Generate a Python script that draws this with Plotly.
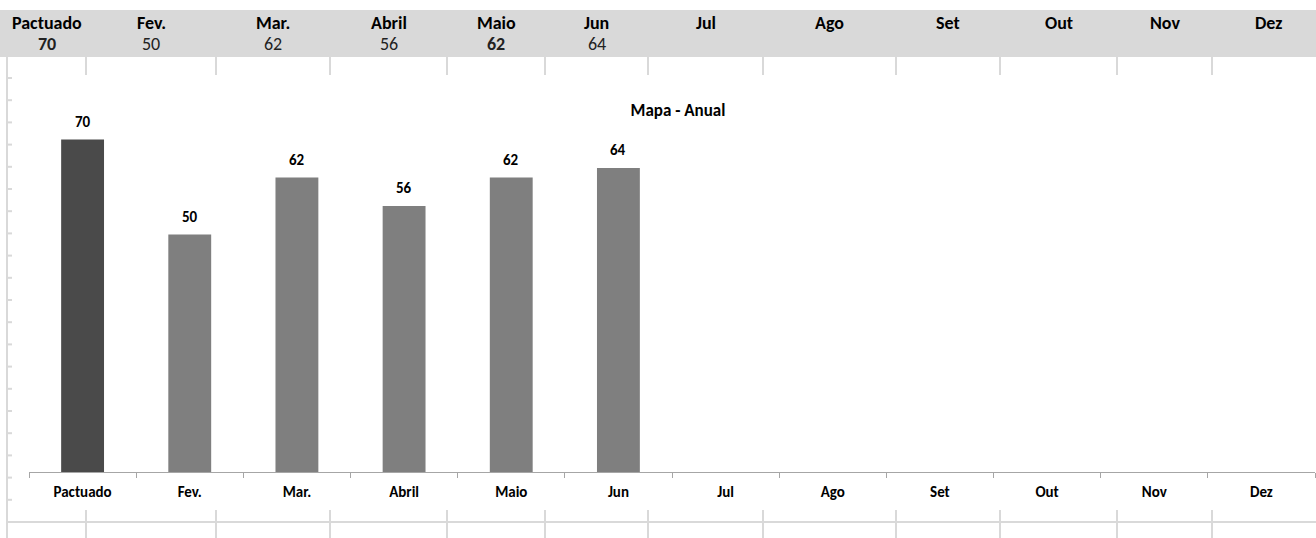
import plotly.graph_objects as go

# dados do mapa anual
meses = ["Pactuado", "Fev.", "Mar.", "Abril", "Maio", "Jun",
         "Jul", "Ago", "Set", "Out", "Nov", "Dez"]
valores = [70, 50, 62, 56, 62, 64, None, None, None, None, None, None]
valores_negrito = ["Pactuado", "Maio"]  # células da linha de cima em negrito

# geometria da folha (pixels) e da área do gráfico
W, H = 1316, 538
ML, MR, MT, MB = 29, 1, 92, 66
PW, PH = W - ML - MR, H - MT - MB
col_bordas = [7, 86, 216, 330, 447, 545, 648, 763, 896, 1000, 1117, 1212, 1324]

FONTE = "Carlito, Lato, Calibri, sans-serif"
CINZA_GRELHA = "#d9d9d9"


def px(x):
    return (x - ML) / PW


def py(y):
    return (H - MB - y) / PH


cores = ["#4a4a4a"] + ["#7f7f7f"] * (len(meses) - 1)

fig = go.Figure()
fig.add_trace(go.Bar(
    x=meses, y=valores, width=0.4,
    marker=dict(color=cores, line=dict(width=0)),
    hoverinfo="x+y",
))

shapes = []
# faixa cinzenta do cabeçalho
shapes.append(dict(type="rect", xref="paper", yref="paper",
                   x0=px(0), x1=px(W), y0=py(57), y1=py(10),
                   fillcolor=CINZA_GRELHA, line=dict(width=0), layer="below"))
# linhas da grelha da folha visíveis à volta do gráfico
for xb in col_bordas[1:-1]:
    for y0, y1 in [(57, 75), (510, H)]:
        shapes.append(dict(type="line", xref="paper", yref="paper",
                           x0=px(xb), x1=px(xb), y0=py(y0), y1=py(y1),
                           line=dict(color=CINZA_GRELHA, width=2), layer="below"))
shapes.append(dict(type="line", xref="paper", yref="paper",
                   x0=px(7), x1=px(W), y0=py(522), y1=py(522),
                   line=dict(color=CINZA_GRELHA, width=2), layer="below"))
shapes.append(dict(type="line", xref="paper", yref="paper",
                   x0=px(7), x1=px(7), y0=py(57), y1=py(H),
                   line=dict(color=CINZA_GRELHA, width=2), layer="below"))
for k in range(20):
    yr = 78 + 22.2 * k
    shapes.append(dict(type="line", xref="paper", yref="paper",
                       x0=px(7), x1=px(12), y0=py(yr), y1=py(yr),
                       line=dict(color=CINZA_GRELHA, width=2), layer="below"))

anots = []
# rótulos de dados por cima das barras
for m, v in zip(meses, valores):
    if v is not None:
        anots.append(dict(x=m, y=v, xref="x", yref="y", text="<b>%d</b>" % v,
                          showarrow=False, yanchor="bottom", yshift=7,
                          font=dict(family=FONTE, size=15, color="#000000")))

# textos do cabeçalho
for i, m in enumerate(meses):
    xc = (col_bordas[i] + col_bordas[i + 1]) / 2
    anots.append(dict(xref="paper", yref="paper", x=px(xc), y=py(23),
                      text="<b>%s</b>" % m, showarrow=False,
                      xanchor="center", yanchor="middle",
                      font=dict(family=FONTE, size=18, color="#000000")))
    v = valores[i]
    if v is not None:
        t = ("<b>%d</b>" % v) if m in valores_negrito else str(v)
        anots.append(dict(xref="paper", yref="paper", x=px(xc), y=py(44),
                          text=t, showarrow=False,
                          xanchor="center", yanchor="middle",
                          font=dict(family=FONTE, size=18, color="#222222")))

fig.update_layout(
    width=W, height=H,
    margin=dict(l=ML, r=MR, t=MT, b=MB),
    paper_bgcolor="white", plot_bgcolor="white",
    showlegend=False,
    title=dict(text="<b>Mapa - Anual</b>", xref="paper", x=px(678),
               yref="container", y=1 - 110 / H, xanchor="center", yanchor="middle",
               font=dict(family=FONTE, size=17, color="#000000")),
    xaxis=dict(
        type="category", categoryorder="array", categoryarray=meses,
        range=[-0.5, len(meses) - 0.5],
        showline=True, linecolor="#a6a6a6", linewidth=1,
        ticks="outside", tickson="boundaries", ticklen=5, tickcolor="#a6a6a6",
        tickfont=dict(family=FONTE, size=15, color="#000000"),
        tickprefix="<b>", ticksuffix="</b>", ticklabelstandoff=6,
        showgrid=False, fixedrange=True,
    ),
    yaxis=dict(range=[0, 80], visible=False, fixedrange=True),
    bargap=0.6,
    shapes=shapes,
    annotations=anots,
)

# a página não deve ter a margem por omissão do body
fig.write_html("out.html", config={"displayModeBar": False},
               post_script="document.body.style.margin='0';document.body.style.overflow='hidden';")
